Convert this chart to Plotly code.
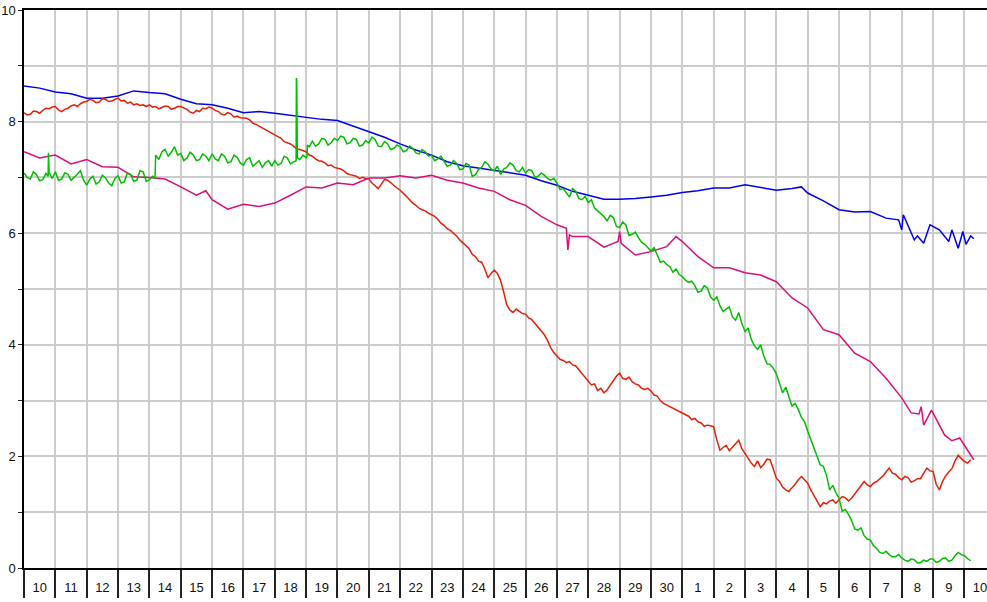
import numpy as np
import plotly.graph_objects as go

# ---------------- data ----------------
day_labels = [str(d) for d in range(10, 31)] + [str(d) for d in range(1, 11)]
y_tickvals = list(range(0, 11))
y_ticktext = ["0", "", "2", "", "4", "", "6", "", "8", "", "10"]

blue_t = [0, 0.5, 1, 1.5, 2, 2.5, 3, 3.5, 4, 4.5, 5, 5.5, 6, 6.5, 7, 7.5, 8, 8.5, 9, 9.5,
          10, 10.5, 11, 11.5, 12, 12.5, 13, 13.5, 14, 14.5, 15, 15.5, 16, 16.5, 17, 17.5, 18, 18.5, 19, 19.5,
          20, 20.5, 21, 21.5, 22, 22.5, 23, 23.5, 24, 24.5, 24.8, 25, 25.5, 26, 26.5, 27, 27.5, 27.9,
          28.0, 28.05, 28.2, 28.4, 28.5, 28.7, 28.9, 29.2, 29.5, 29.6, 29.8, 29.95, 30.05, 30.2, 30.3]
blue_v = [8.64, 8.60, 8.53, 8.50, 8.42, 8.42, 8.46, 8.55, 8.52, 8.50,
          8.40, 8.32, 8.30, 8.24, 8.16, 8.18, 8.15, 8.11, 8.08, 8.04,
          8.02, 7.92, 7.82, 7.72, 7.60, 7.49, 7.40, 7.28, 7.21, 7.17,
          7.12, 7.08, 7.04, 6.94, 6.86, 6.75, 6.68, 6.61, 6.61, 6.62,
          6.65, 6.68, 6.73, 6.76, 6.81, 6.81, 6.87, 6.82, 6.77, 6.80,
          6.83, 6.72, 6.58, 6.42, 6.38, 6.39, 6.27, 6.24,
          6.06, 6.33, 6.15, 5.88, 5.95, 5.82, 6.15, 6.06, 5.85, 6.06, 5.73, 6.03, 5.80, 5.95, 5.90]

magenta_t = [0, 0.5, 1, 1.5, 2, 2.5, 3, 3.5, 4, 4.5, 5, 5.5, 5.8,
             6, 6.5, 7, 7.5, 8, 8.5, 9, 9.5, 10, 10.5, 11, 11.5, 12, 12.5, 13, 13.5, 14, 14.5,
             15, 15.5, 16, 16.5, 17, 17.3, 17.35, 17.4, 17.5, 18, 18.5, 18.95, 19.0, 19.05,
             19.5, 20, 20.5, 20.8, 21, 21.5, 22, 22.5, 23, 23.5, 24, 24.5, 25, 25.5, 26, 26.5,
             27, 27.5, 28, 28.3, 28.55, 28.62, 28.7, 28.95, 29.37, 29.6, 29.85, 30.1, 30.3]
magenta_v = [7.46, 7.35, 7.40, 7.24, 7.32, 7.19, 7.18, 7.01, 7.00, 6.97, 6.83, 6.68, 6.76,
             6.60, 6.43, 6.52, 6.48, 6.54, 6.68, 6.83, 6.81, 6.90, 6.87, 6.99, 6.99, 7.03, 6.99,
             7.04, 6.95, 6.90, 6.81, 6.75, 6.60, 6.50, 6.30, 6.15, 6.09, 5.70, 5.97, 5.94, 5.94,
             5.75, 5.85, 6.03, 5.82, 5.61, 5.67, 5.76, 5.94, 5.85, 5.58, 5.38, 5.38, 5.29, 5.25,
             5.13, 4.84, 4.66, 4.27, 4.18, 3.85, 3.70, 3.40, 3.05, 2.78, 2.76, 2.89, 2.56, 2.83,
             2.38, 2.28, 2.33, 2.11, 1.94]

# sampled every 0.1 day from day 0 (10 readings per day)
green_v = [7.08, 7.00, 6.97, 7.10, 7.05, 6.94, 6.96, 7.07, 7.09, 6.98,
           7.10, 6.95, 6.97, 7.08, 7.06, 6.95, 7.00, 7.06, 7.12, 6.95,
           6.86, 6.97, 7.02, 6.88, 6.92, 7.04, 6.99, 6.90, 6.85, 6.98,
           7.03, 6.90, 6.92, 7.08, 7.05, 6.93, 6.95, 7.12, 7.10, 6.93,
           6.96, 7.02, 7.40, 7.32, 7.46, 7.50, 7.38, 7.45, 7.55, 7.40,
           7.43, 7.30, 7.35, 7.45, 7.40, 7.30, 7.32, 7.42, 7.38, 7.30,
           7.42, 7.33, 7.30, 7.42, 7.38, 7.26, 7.28, 7.40, 7.36, 7.26,
           7.22, 7.32, 7.35, 7.20, 7.25, 7.30, 7.18, 7.26, 7.30, 7.20,
           7.30, 7.22, 7.25, 7.38, 7.35, 7.24, 7.28, 8.72, 7.32, 7.40,
           7.35, 7.55, 7.65, 7.56, 7.60, 7.70, 7.68, 7.58, 7.62, 7.70,
           7.66, 7.74, 7.72, 7.60, 7.62, 7.70, 7.68, 7.56, 7.58, 7.66,
           7.62, 7.72, 7.68, 7.56, 7.55, 7.64, 7.60, 7.50, 7.52, 7.58,
           7.55, 7.46, 7.48, 7.56, 7.52, 7.44, 7.42, 7.50, 7.46, 7.38,
           7.40, 7.30, 7.33, 7.38, 7.30, 7.20, 7.22, 7.30, 7.25, 7.14,
           7.15, 7.25, 7.22, 7.02, 7.05, 7.14, 7.18, 7.28, 7.24, 7.15,
           7.12, 7.20, 7.05, 7.15, 7.18, 7.26, 7.22, 7.12, 7.10, 7.18,
           7.08, 7.14, 7.12, 7.00, 7.02, 7.08, 7.04, 6.98, 6.95, 6.98,
           6.90, 6.78, 6.80, 6.72, 6.65, 6.80, 6.75, 6.62, 6.60, 6.66,
           6.55, 6.60, 6.45, 6.40, 6.35, 6.30, 6.22, 6.32, 6.28, 6.12,
           6.10, 6.20, 6.15, 5.96, 5.98, 6.02, 5.92, 5.84, 5.80, 5.74,
           5.68, 5.74, 5.62, 5.48, 5.50, 5.44, 5.40, 5.30, 5.36, 5.26,
           5.22, 5.16, 5.12, 5.14, 5.06, 4.94, 4.96, 5.06, 5.02, 4.86,
           4.80, 4.86, 4.70, 4.60, 4.64, 4.68, 4.50, 4.44, 4.58, 4.38,
           4.24, 4.30, 4.10, 3.98, 3.92, 4.00, 3.80, 3.66, 3.65, 3.58,
           3.48, 3.30, 3.14, 3.24, 3.05, 2.90, 2.95, 2.84, 2.70, 2.62,
           2.45, 2.30, 2.12, 2.00, 1.85, 1.82, 1.66, 1.40, 1.48, 1.35,
           1.25, 1.02, 1.05, 0.96, 0.85, 0.70, 0.68, 0.72, 0.58, 0.52,
           0.50, 0.40, 0.35, 0.28, 0.26, 0.30, 0.24, 0.20, 0.20, 0.24,
           0.18, 0.14, 0.12, 0.16, 0.15, 0.09, 0.10, 0.14, 0.12, 0.16,
           0.16, 0.10, 0.12, 0.17, 0.18, 0.12, 0.14, 0.22, 0.28, 0.24,
           0.22, 0.17, 0.13]
green_extra_t = [0.77, 0.78, 4.18, 8.68, 8.69, 8.72, 9.03, 9.04]
green_extra_v = [7.02, 7.44, 6.98, 7.30, 8.78, 7.35, 7.38, 7.58]

red_v = [8.16, 8.12, 8.13, 8.19, 8.18, 8.15, 8.20, 8.24, 8.23, 8.26,
         8.27, 8.21, 8.18, 8.22, 8.24, 8.28, 8.30, 8.27, 8.32, 8.35,
         8.36, 8.40, 8.38, 8.34, 8.35, 8.41, 8.40, 8.36, 8.37, 8.40,
         8.42, 8.37, 8.38, 8.33, 8.35, 8.30, 8.32, 8.29, 8.30, 8.27,
         8.30, 8.26, 8.27, 8.23, 8.25, 8.28, 8.27, 8.22, 8.24, 8.27,
         8.27, 8.24, 8.22, 8.17, 8.15, 8.20, 8.18, 8.24, 8.23, 8.26,
         8.24, 8.20, 8.18, 8.13, 8.12, 8.16, 8.14, 8.08, 8.10, 8.07,
         8.06, 8.06, 8.03, 7.97, 7.95, 7.92, 7.88, 7.86, 7.82, 7.80,
         7.76, 7.74, 7.70, 7.64, 7.62, 7.60, 7.56, 7.51, 7.50, 7.48,
         7.46, 7.40, 7.38, 7.33, 7.30, 7.29, 7.26, 7.21, 7.22, 7.18,
         7.17, 7.15, 7.12, 7.07, 7.05, 7.04, 7.02, 6.98, 7.00, 6.98,
         6.97, 6.90, 6.85, 6.80, 6.88, 6.96, 6.95, 6.90, 6.85, 6.81,
         6.77, 6.72, 6.66, 6.60, 6.54, 6.50, 6.45, 6.42, 6.40, 6.36,
         6.33, 6.30, 6.25, 6.18, 6.14, 6.08, 6.05, 6.00, 5.95, 5.88,
         5.82, 5.78, 5.72, 5.62, 5.58, 5.50, 5.48, 5.36, 5.20, 5.28,
         5.34, 5.28, 5.16, 4.95, 4.72, 4.62, 4.58, 4.64, 4.60, 4.56,
         4.55, 4.48, 4.45, 4.38, 4.30, 4.24, 4.18, 4.08, 3.95, 3.86,
         3.79, 3.74, 3.72, 3.68, 3.70, 3.64, 3.62, 3.55, 3.50, 3.42,
         3.34, 3.28, 3.30, 3.18, 3.22, 3.14, 3.19, 3.28, 3.35, 3.44,
         3.49, 3.40, 3.38, 3.42, 3.34, 3.30, 3.28, 3.22, 3.20, 3.22,
         3.17, 3.10, 3.08, 3.00, 2.95, 2.92, 2.90, 2.86, 2.84, 2.80,
         2.78, 2.74, 2.72, 2.66, 2.68, 2.62, 2.60, 2.54, 2.56, 2.55,
         2.53, 2.30, 2.11, 2.16, 2.20, 2.10, 2.17, 2.22, 2.29, 2.14,
         2.05, 1.96, 1.88, 1.82, 1.92, 1.80, 1.86, 1.95, 1.94, 1.78,
         1.61, 1.55, 1.45, 1.40, 1.37, 1.44, 1.50, 1.58, 1.64, 1.58,
         1.52, 1.40, 1.30, 1.18, 1.10, 1.17, 1.15, 1.20, 1.22, 1.16,
         1.22, 1.28, 1.26, 1.20, 1.25, 1.32, 1.40, 1.48, 1.55, 1.49,
         1.46, 1.52, 1.55, 1.60, 1.65, 1.72, 1.79, 1.70, 1.68, 1.62,
         1.58, 1.64, 1.62, 1.54, 1.56, 1.60, 1.60, 1.70, 1.79, 1.74,
         1.73, 1.50, 1.40, 1.55, 1.65, 1.72, 1.78, 1.92, 2.02, 1.96,
         1.91, 1.88, 1.94]

STEP = 0.1


def grid_series(vals, extra_t=(), extra_v=()):
    t = list(np.round(np.arange(len(vals)) * STEP, 3)) + list(extra_t)
    v = list(vals) + list(extra_v)
    order = np.argsort(t, kind="stable")
    return [t[i] for i in order], [v[i] for i in order]


green_t, green_vv = grid_series(green_v, green_extra_t, green_extra_v)
red_t, red_vv = grid_series(red_v)

n_days = len(day_labels)
boundaries = list(range(n_days + 1))
centers = [k + 0.5 for k in range(n_days)]

# ---------------- figure ----------------
fig = go.Figure()
line_w = 1.5
fig.add_trace(go.Scatter(x=blue_t, y=blue_v, mode="lines", line=dict(color="#0000f0", width=line_w)))
fig.add_trace(go.Scatter(x=red_t, y=red_vv, mode="lines", line=dict(color="#e8200a", width=line_w)))
fig.add_trace(go.Scatter(x=magenta_t, y=magenta_v, mode="lines", line=dict(color="#dc0f7a", width=line_w)))
fig.add_trace(go.Scatter(x=green_t, y=green_vv, mode="lines", line=dict(color="#00bf00", width=line_w)))

font = dict(family="Liberation Sans, Arial, sans-serif", size=13, color="#111111")

fig.update_layout(
    width=987, height=602,
    margin=dict(l=24, r=0, t=10, b=34, pad=0),
    plot_bgcolor="white", paper_bgcolor="white",
    showlegend=False,
    font=font,
    xaxis=dict(
        range=[0, 30.72], automargin=False,
        tickmode="array", tickvals=centers, ticktext=day_labels,
        ticks="outside", ticklen=7, tickcolor="rgba(0,0,0,0)",
        ticklabeloverflow="allow",
        showgrid=False, zeroline=False,
        showline=True, linecolor="black", linewidth=1.5, mirror=True,
        tickfont=font,
        minor=dict(tickmode="array", tickvals=boundaries, ticks="outside", ticklen=28,
                   tickwidth=1.5, tickcolor="#222222",
                   showgrid=True, gridcolor="#cccccc", gridwidth=1.5),
    ),
    yaxis=dict(
        range=[0, 10], automargin=False,
        tickmode="array", tickvals=y_tickvals, ticktext=y_ticktext,
        ticks="outside", ticklen=4, tickcolor="#222222", tickwidth=1,
        showgrid=True, gridcolor="#cccccc", gridwidth=1.5,
        zeroline=False, showline=True, linecolor="black", linewidth=1.5,
        tickfont=font,
    ),
)

fig.write_html(
    "out.html",
    config={"displayModeBar": False},
    post_script="document.body.style.margin='0';document.body.style.overflow='hidden';",
)
